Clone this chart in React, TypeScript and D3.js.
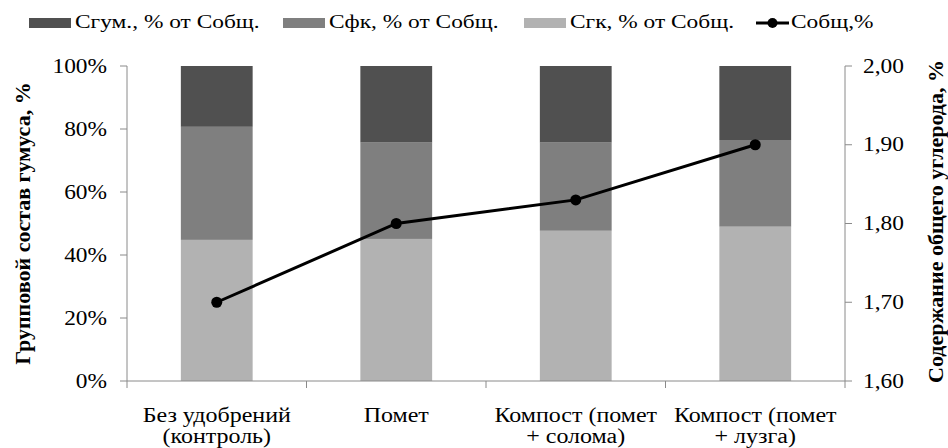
import * as d3 from 'd3';

const categories = ['Без удобрений|(контроль)', 'Помет', 'Компост (помет|+ солома)', 'Компост (помет|+ лузга)'];
const cGk = [44.8, 45.1, 47.7, 49.0];
const cFk = [35.9, 30.6, 28.0, 27.5];
const cGum = [19.3, 24.3, 24.3, 23.5];
const cTotal = [1.7, 1.8, 1.83, 1.9];
const leftTicks = [0, 20, 40, 60, 80, 100];
const rightTicks = [1.6, 1.7, 1.8, 1.9, 2.0];

const seriesNames = ['Сгк, % от Собщ.', 'Сфк, % от Собщ.', 'Сгум., % от Собщ.'];
const colors = ['#b2b2b2', '#7f7f7f', '#505050'];

const W = 948;
const H = 448;
const margin = { top: 66, right: 103, bottom: 67, left: 127 };
const font = "'Liberation Serif', 'DejaVu Serif', serif";
const axisColor = '#8a8a8a';
// the source picture is a bit wider than tall, so text is stretched horizontally
const sx = 1.17;
const legendSx = 1.3;

const App = () => {
  const innerW = W - margin.left - margin.right;
  const innerH = H - margin.top - margin.bottom;

  const x = d3.scaleBand<number>()
    .domain(d3.range(categories.length))
    .range([0, innerW])
    .paddingInner(0.6)
    .paddingOuter(0.3);
  const step = x.step();
  const yL = d3.scaleLinear().domain([0, 100]).range([innerH, 0]);
  const yR = d3.scaleLinear().domain([1.6, 2.0]).range([innerH, 0]);

  const rows = categories.map((c, i) => ({ i, gk: cGk[i], fk: cFk[i], gum: cGum[i] }));
  const stack = d3.stack<any>().keys(['gk', 'fk', 'gum'])(rows);

  const cx = (i: number) => (x(i) || 0) + x.bandwidth() / 2;
  const line = d3.line<number>()
    .x((_, i) => cx(i))
    .y(d => yR(d));

  const fmtR = (v: number) => v.toFixed(2).replace('.', ',');

  // legend items in display order
  const legend = [
    { name: seriesNames[2], color: colors[2], x: 29 },
    { name: seriesNames[1], color: colors[1], x: 283 },
    { name: seriesNames[0], color: colors[0], x: 524 },
  ];

  return (
    <svg width={W} height={H} style={{ position: 'absolute', left: 0, top: 0, background: '#fff', fontFamily: font }}>
      {/* legend */}
      <g fontSize={18} fill="#000">
        {legend.map(l => (
          <g key={l.name}>
            <rect x={l.x} y={18} width={42} height={10} fill={l.color} />
            <text transform={`translate(${l.x + 46},28) scale(${legendSx},1)`}>{l.name}</text>
          </g>
        ))}
        <line x1={756} x2={789} y1={23} y2={23} stroke="#000" strokeWidth={3} />
        <circle cx={772.5} cy={23} r={5} fill="#000" />
        <text transform={`translate(791,28) scale(${legendSx},1)`}>Собщ,%</text>
      </g>

      <g transform={`translate(${margin.left},${margin.top})`}>
        {/* bars */}
        {stack.map((s, si) => (
          <g key={si} fill={colors[si]}>
            {s.map((d, i) => (
              <rect key={i} x={x(i)} width={x.bandwidth()} y={yL(d[1])} height={yL(d[0]) - yL(d[1])} />
            ))}
          </g>
        ))}

        {/* axes */}
        <g stroke={axisColor} strokeWidth={1}>
          <line x1={0} x2={0} y1={0} y2={innerH} />
          {leftTicks.map(t => <line key={t} x1={-7} x2={0} y1={yL(t)} y2={yL(t)} />)}
          <line x1={0} x2={innerW} y1={innerH} y2={innerH} />
          {d3.range(categories.length + 1).map(i => (
            <line key={i} x1={i * step} x2={i * step} y1={innerH} y2={innerH + 7} />
          ))}
          <line x1={innerW} x2={innerW} y1={0} y2={innerH} />
          {rightTicks.map(t => <line key={t} x1={innerW} x2={innerW + 7} y1={yR(t)} y2={yR(t)} />)}
        </g>
        <g fontSize={20} fill="#000">
          {leftTicks.map(t => (
            <text key={t} transform={`translate(-20,${yL(t)}) scale(${sx},1)`} dy="0.33em" textAnchor="end">{t}%</text>
          ))}
          {rightTicks.map(t => (
            <text key={t} transform={`translate(${innerW + 18},${yR(t)}) scale(${sx},1)`} dy="0.33em">{fmtR(t)}</text>
          ))}
        </g>
        <g fontSize={20.5} fill="#000">
          {categories.map((c, i) => (
            <g key={i} transform={`translate(${cx(i)},${innerH + 41}) scale(${sx},1)`}>
              {c.split('|').map((part, k) => (
                <text key={k} x={0} y={k * 21} textAnchor="middle">{part}</text>
              ))}
            </g>
          ))}
        </g>

        {/* line series */}
        <path d={line(cTotal) || ''} fill="none" stroke="#000" strokeWidth={3} />
        {cTotal.map((v, i) => (
          <circle key={i} cx={cx(i)} cy={yR(v)} r={5.5} fill="#000" />
        ))}
      </g>

      {/* axis titles */}
      <text transform={`translate(30,${margin.top + innerH / 2}) rotate(-90)`} textAnchor="middle"
        fontSize={22} fontWeight="bold">Групповой состав гумуса, %</text>
      <text transform={`translate(943,${margin.top + innerH / 2 - 2}) rotate(-90)`} textAnchor="middle"
        fontSize={22} fontWeight="bold">Содержание общего углерода, %</text>
    </svg>
  );
};

export default App;
